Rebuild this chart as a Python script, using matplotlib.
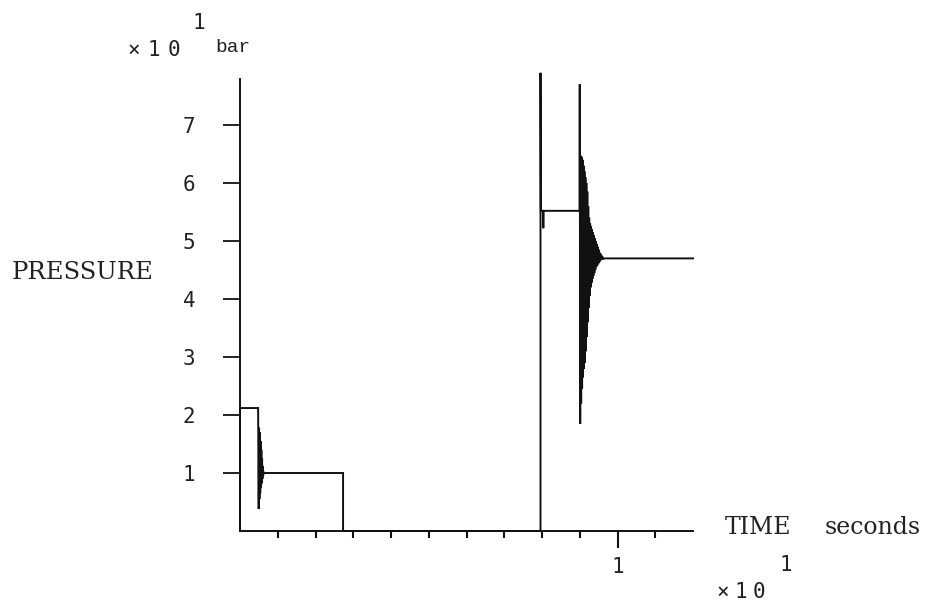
import numpy as np
import matplotlib
matplotlib.use("Agg")
import matplotlib.pyplot as plt

# ---- data (time in units of 10 s, pressure in units of 10 bar) ----
# first pressure pulse and its decaying ringing
ring1_t = [0.0480, 0.0495, 0.0505, 0.0515, 0.0525, 0.0535, 0.0545, 0.0555,
           0.0565, 0.0575, 0.0585, 0.0595, 0.0605, 0.0615, 0.0625]
ring1_p = [2.12, 0.38, 1.78, 0.55, 1.70, 0.65, 1.55, 0.74,
           1.40, 0.82, 1.25, 0.90, 1.12, 0.96, 1.02]

# plateau / release / second pulse
mid_t = [0.0640, 0.2730, 0.2730, 0.7960, 0.7960, 0.7970, 0.8030, 0.8035, 0.8040, 0.8995]
mid_p = [1.00, 1.00, 0.00, 0.00, 7.90, 5.52, 5.52, 5.22, 5.52, 5.52]

# second transient ringing
ring2_t = [0.9000, 0.9012, 0.9025, 0.9037, 0.9050, 0.9062, 0.9075, 0.9087,
           0.9100, 0.9112, 0.9125, 0.9137, 0.9150, 0.9162, 0.9175, 0.9187,
           0.9200, 0.9212, 0.9225, 0.9237, 0.9250, 0.9262, 0.9275, 0.9287,
           0.9300, 0.9312, 0.9325, 0.9337, 0.9350, 0.9362, 0.9375, 0.9387,
           0.9400, 0.9412, 0.9425, 0.9437, 0.9450, 0.9462, 0.9475, 0.9487,
           0.9500, 0.9512, 0.9525, 0.9537, 0.9550, 0.9562, 0.9575, 0.9587,
           0.9600, 0.9612]
ring2_p = [7.70, 1.85, 6.47, 2.20, 6.45, 2.45, 6.40, 2.65,
           6.30, 2.80, 6.20, 2.90, 6.10, 3.10, 6.00, 3.35,
           5.85, 3.60, 5.60, 3.85, 5.40, 4.05, 5.30, 4.20,
           5.25, 4.28, 5.20, 4.35, 5.15, 4.40, 5.10, 4.45,
           5.05, 4.50, 5.00, 4.55, 4.95, 4.58, 4.90, 4.60,
           4.85, 4.63, 4.80, 4.65, 4.78, 4.67, 4.75, 4.68,
           4.73, 4.69]

# final settled level
end_t = [0.9660, 1.2000]
end_p = [4.70, 4.70]

start_t = [0.0, 0.0]
start_p = [0.0, 2.12]

y_ticks = [1, 2, 3, 4, 5, 6, 7]
x_minor = [0.1, 0.2, 0.3, 0.4, 0.5, 0.6, 0.7, 0.8, 0.9, 1.1]
x_major = [1.0]
x_major_labels = ["1"]

t = np.concatenate([start_t, ring1_t, mid_t, ring2_t, end_t])
p = np.concatenate([start_p, ring1_p, mid_p, ring2_p, end_p])

# ---- figure ----
W, H = 928, 608
fig = plt.figure(figsize=(W / 100, H / 100), dpi=100)
fig.patch.set_facecolor("white")

x0, x1 = 240, 693          # pixel extent of time axis
y0 = 531                   # pixel row of zero pressure
ppu = 58.0                 # pixels per pressure unit
ytop = 7.95
ax = fig.add_axes([x0 / W, (H - y0) / H, (x1 - x0) / W, ytop * ppu / H])
ax.set_xlim(0, 1.2)
ax.set_ylim(0, ytop)

ax.plot(t, p, color="#111111", lw=1.4, solid_joinstyle="miter", clip_on=False)

for s in ("top", "right"):
    ax.spines[s].set_visible(False)
ax.spines["left"].set_bounds(0, 7.8)
for s in ("left", "bottom"):
    ax.spines[s].set_linewidth(1.4)
    ax.spines[s].set_color("#111111")

mono = "DejaVu Sans Mono"
ink = "#222222"
ax.set_yticks(y_ticks)
ax.set_yticklabels([str(v) for v in y_ticks], family=mono, fontsize=15)
ax.tick_params(axis="y", direction="out", length=12, width=1.3, pad=20,
               color="#111111", labelcolor=ink)

ax.set_xticks(x_major)
ax.set_xticklabels(x_major_labels, family=mono, fontsize=15)
ax.set_xticks(x_minor, minor=True)
ax.tick_params(axis="x", which="major", direction="out", length=12, width=1.5,
               pad=7, color="#111111", labelcolor=ink)
ax.tick_params(axis="x", which="minor", direction="out", length=5, width=1.5,
               color="#111111")


def ftext(px, py, s, **kw):
    fig.text(px / W, 1 - py / H, s, **kw)


def spaced(px, py, s, pitch, **kw):
    # plotter-style lettering: one glyph per fixed cell
    for i, ch in enumerate(s):
        ftext(px + i * pitch, py, ch, ha="center", va="center", **kw)


serif = "DejaVu Serif"
ftext(83, 272, "PRESSURE", family=serif, fontsize=17.5, ha="center", va="center",
      color=ink)
ftext(758, 527, "TIME", family=serif, fontsize=17, ha="center", va="center",
      color=ink)
ftext(873, 527, "seconds", family=serif, fontsize=17, ha="center", va="center",
      color=ink)

# axis multipliers
spaced(134, 50, "×10", 20, family=mono, fontsize=15, color=ink)
ftext(199, 23, "1", family=mono, fontsize=15, ha="center", va="center", color=ink)
ftext(233, 48, "bar", family="Liberation Mono", fontsize=14, ha="center",
      va="center", color=ink)
spaced(723, 592, "×10", 18, family=mono, fontsize=15, color=ink)
ftext(786, 565, "1", family=mono, fontsize=15, ha="center", va="center", color=ink)

fig.savefig("out.png", dpi=100, facecolor="white")
